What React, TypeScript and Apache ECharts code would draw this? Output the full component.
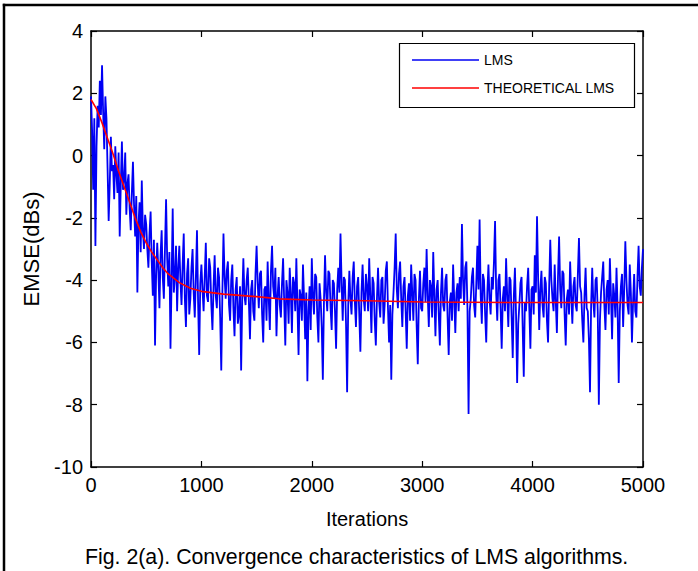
import React, { useEffect, useRef } from "react";
import * as echarts from "echarts";

// LMS learning curve, one reading every 10 iterations (0 ... 5000)
const lmsStep = 10;
const lmsValues = [
  1.9, 0.8, -1.1, 1.2, -2.9, 0.3, 1.6, 0.9, 2.4, 1.3,
  2.9, 1.4, 0.2, 1.9, 1.2, -0.4, -2.1, -0.9, 0.6, -0.5,
  -0.3, -1.4, 0.3, -0.6, -1.2, 0.1, -2.6, -0.9, 0.45, -1.1,
  -0.8, 0.1, -1.9, -0.9, -0.6, -1.7, -2.4, -1.2, -0.2, -1.6,
  -2.6, -1.3, -4.4, -2.2, -1.5, -3.1, -0.8, -2.4, -3.0, -1.9,
  -2.2, -3.0, -3.6, -2.5, -1.8, -3.4, -4.5, -2.7, -6.1, -3.8,
  -2.8, -3.7, -4.9, -3.2, -2.4, -3.9, -4.6, -3.0, -1.4, -3.3,
  -4.2, -3.1, -6.2, -4.0, -1.7, -4.4, -3.9, -2.9, -5.0, -3.6,
  -2.9, -4.0, -4.8, -3.5, -2.5, -4.6, -5.5, -3.8, -3.3, -5.1,
  -4.6, -3.6, -3.0, -4.4, -5.2, -3.9, -2.4, -4.7, -6.4, -4.1,
  -3.5, -4.3, -5.0, -3.9, -2.8, -4.5, -4.7, -3.3, -3.6, -4.8,
  -5.6, -4.2, -3.2, -4.5, -4.9, -3.6, -3.9, -5.2, -6.9, -4.4,
  -2.5, -3.9, -4.6, -3.7, -3.4, -4.8, -5.3, -4.0, -3.5, -4.9,
  -5.8, -4.3, -3.9, -5.4, -5.1, -4.2, -6.9, -4.6, -3.3, -4.5,
  -4.8, -4.0, -3.6, -4.7, -5.9, -4.3, -4.0, -5.0, -5.3, -3.8,
  -2.9, -4.1, -4.9, -3.8, -3.7, -5.1, -6.0, -4.3, -4.2, -5.3,
  -3.4, -4.6, -5.6, -3.7, -2.9, -4.2, -4.6, -3.6, -5.8, -4.5,
  -3.9, -4.8, -5.2, -4.1, -3.3, -4.7, -6.1, -4.0, -4.4, -5.4,
  -3.6, -4.4, -5.7, -3.9, -4.1, -5.0, -3.3, -4.8, -6.4, -4.3,
  -4.5, -5.3, -3.5, -4.6, -5.9, -4.4, -7.25, -5.0, -4.2, -5.6,
  -3.3, -4.5, -5.1, -3.8, -3.9, -5.2, -6.0, -4.1, -4.6, -5.5,
  -7.2, -4.7, -3.2, -4.4, -5.0, -3.7, -3.8, -4.9, -5.6, -4.0,
  -4.1, -5.0, -6.2, -4.3, -3.6, -4.4, -2.5, -4.1, -5.3, -3.9,
  -4.0, -5.4, -7.6, -4.8, -3.7, -4.6, -5.1, -3.9, -3.4, -4.7,
  -5.5, -4.2, -3.9, -5.1, -6.3, -4.4, -3.5, -4.6, -5.0, -3.8,
  -4.2, -5.0, -3.3, -4.5, -5.7, -3.9, -4.1, -5.3, -6.1, -4.6,
  -3.6, -4.7, -5.2, -4.0, -3.9, -5.4, -4.8, -3.7, -3.4, -4.9,
  -6.0, -4.8, -7.2, -5.1, -4.4, -3.6, -2.5, -4.3, -4.9, -3.8,
  -3.4, -4.6, -5.5, -4.2, -3.9, -5.0, -6.2, -4.5, -4.1, -5.3,
  -3.5, -4.4, -5.3, -3.8, -4.0, -5.5, -6.7, -4.6, -3.7, -4.9,
  -5.0, -4.1, -3.6, -4.7, -3.0, -4.5, -5.5, -4.0, -4.2, -5.2,
  -3.1, -4.5, -5.8, -4.3, -4.0, -5.1, -6.1, -4.4, -3.6, -4.8,
  -5.0, -4.0, -3.8, -5.2, -6.4, -4.7, -4.4, -5.3, -3.5, -4.6,
  -5.7, -4.4, -4.1, -5.0, -3.9, -4.6, -2.2, -4.0, -4.8, -3.6,
  -3.4, -4.9, -8.3, -5.0, -4.6, -3.9, -3.6, -4.8, -5.2, -4.1,
  -2.9, -4.3, -2.05, -4.5, -5.4, -3.8, -4.0, -5.1, -6.0, -4.4,
  -3.5, -4.6, -5.1, -3.9, -4.3, -3.4, -2.1, -4.4, -5.3, -4.0,
  -3.8, -4.9, -6.2, -4.6, -4.2, -5.0, -3.3, -4.5, -5.5, -3.9,
  -4.0, -5.2, -6.5, -4.5, -3.6, -5.1, -7.3, -5.4, -4.8, -4.1,
  -3.9, -5.5, -7.1, -4.7, -5.0, -4.2, -3.6, -4.9, -6.2, -4.3,
  -4.2, -5.1, -3.2, -4.4, -1.95, -3.9, -5.6, -4.3, -3.7, -4.8,
  -5.2, -3.9, -4.1, -5.3, -6.0, -4.2, -2.7, -4.0, -4.6, -5.0,
  -3.5, -4.7, -5.7, -3.9, -2.6, -4.3, -4.9, -3.7, -3.8, -5.1,
  -6.1, -4.6, -4.3, -5.1, -3.4, -4.5, -5.4, -4.2, -3.9, -4.8,
  -5.0, -3.8, -2.65, -4.2, -4.4, -5.3, -6.0, -4.5, -3.6, -4.9,
  -5.0, -5.9, -7.6, -4.8, -3.6, -4.7, -5.2, -4.0, -3.9, -5.0,
  -8.0, -5.3, -4.4, -3.9, -3.4, -4.8, -5.6, -4.3, -4.0, -5.1,
  -3.3, -4.5, -5.9, -4.1, -4.5, -5.2, -3.6, -4.9, -7.3, -5.0,
  -4.2, -3.8, -5.5, -4.3, -2.75, -4.0, -4.8, -5.1, -3.5, -4.4,
  -6.0, -4.7, -3.8, -5.0, -5.2, -3.9, -2.9, -4.2, -4.5, -3.6,
  -3.0,
];

// Theoretical LMS curve
const theoIter = [0, 50, 100, 150, 200, 250, 300, 350, 400, 450, 500, 550, 600, 650, 700, 800, 900, 1000, 1200, 1500, 1700, 2000, 2500, 3000, 4000, 5000];
const theoValues = [1.8, 1.5, 1.05, 0.55, 0.05, -0.5, -1.0, -1.5, -2.0, -2.45, -2.8, -3.1, -3.35, -3.6, -3.8, -4.08, -4.26, -4.36, -4.45, -4.53, -4.6, -4.64, -4.66, -4.7, -4.72, -4.72];

const seriesNames = ["LMS", "THEORETICAL LMS"];
const xRange = { min: 0, max: 5000, interval: 1000 };
const yRange = { min: -10, max: 4, interval: 2 };
const xLabel = "Iterations";
const yLabel = "EMSE(dBs)";
const caption = "Fig. 2(a). Convergence characteristics of LMS algorithms.";

const regular = "'Liberation Sans', Arial, Helvetica, sans-serif";

export default function App() {
  const ref = useRef<HTMLDivElement>(null);

  useEffect(() => {
    if (!ref.current) return;
    const chart = echarts.init(ref.current, undefined, { renderer: "svg" });

    const axisLine = { show: true, onZero: false, lineStyle: { color: "#000", width: 1.5 } };
    const axisTick = { show: true, inside: true, length: 6, lineStyle: { color: "#000", width: 1.2 } };
    const tickLabel = {
      color: "#000",
      fontFamily: regular,
      fontSize: 20,
      margin: 8,
      formatter: (v: number) => String(v),
    };

    const option: any = {
      animation: false,
      backgroundColor: "#fff",
      grid: { left: 91, top: 31, width: 552, height: 436, containLabel: false },
      title: {
        text: caption,
        left: 85,
        top: 546,
        padding: 0,
        textStyle: { fontFamily: regular, fontSize: 21.3, fontWeight: "normal", color: "#000", lineHeight: 22 },
      },
      legend: {
        orient: "vertical",
        left: 412,
        top: 50,
        padding: 0,
        icon: "rect",
        itemWidth: 67,
        itemHeight: 1.6,
        itemGap: 8,
        data: seriesNames,
        textStyle: { fontFamily: regular, fontSize: 14, color: "#000", lineHeight: 20 },
      },
      xAxis: [
        {
          type: "value",
          position: "bottom",
          ...xRange,
          axisLine,
          axisTick,
          splitLine: { show: false },
          axisLabel: tickLabel,
          name: xLabel,
          nameLocation: "middle",
          nameGap: 42,
          nameTextStyle: { fontFamily: regular, fontSize: 20, color: "#000" },
        },
        {
          type: "value",
          position: "top",
          ...xRange,
          axisLine,
          axisTick,
          splitLine: { show: false },
          axisLabel: { show: false },
        },
      ],
      yAxis: [
        {
          type: "value",
          position: "left",
          ...yRange,
          axisLine,
          axisTick,
          splitLine: { show: false },
          axisLabel: tickLabel,
          name: yLabel,
          nameLocation: "middle",
          nameRotate: 90,
          nameGap: 49,
          nameTextStyle: { fontFamily: regular, fontSize: 22, color: "#000" },
        },
        {
          type: "value",
          position: "right",
          ...yRange,
          axisLine,
          axisTick,
          splitLine: { show: false },
          axisLabel: { show: false },
        },
      ],
      series: [
        {
          name: seriesNames[0],
          type: "line",
          xAxisIndex: 0,
          yAxisIndex: 0,
          symbol: "none",
          showSymbol: false,
          data: lmsValues.map((v, i) => [i * lmsStep, v]),
          lineStyle: { color: "#0000f5", width: 1.8 },
          itemStyle: { color: "#0000f5" },
          z: 2,
        },
        {
          name: seriesNames[1],
          type: "line",
          xAxisIndex: 0,
          yAxisIndex: 0,
          symbol: "none",
          showSymbol: false,
          data: theoIter.map((x, i) => [x, theoValues[i]]),
          lineStyle: { color: "#ff0000", width: 1.6 },
          itemStyle: { color: "#ff0000" },
          z: 3,
        },
      ],
      graphic: [
        {
          type: "rect",
          z: 3,
          shape: { x: 399.5, y: 43.5, width: 235, height: 64 },
          style: { fill: "#fff", stroke: "#000", lineWidth: 1.2 },
        },
        {
          type: "line",
          z: 10,
          shape: { x1: 4, y1: 3.8, x2: 4, y2: 571 },
          style: { stroke: "#000", lineWidth: 2.5 },
        },
        {
          type: "line",
          z: 10,
          shape: { x1: 2.8, y1: 5, x2: 698, y2: 5 },
          style: { stroke: "#000", lineWidth: 2.6 },
        },
      ],
    };

    chart.setOption(option);
    return () => chart.dispose();
  }, []);

  return (
    <div
      ref={ref}
      style={{ position: "absolute", left: 0, top: 0, width: 698, height: 571, background: "#fff" }}
    />
  );
}
